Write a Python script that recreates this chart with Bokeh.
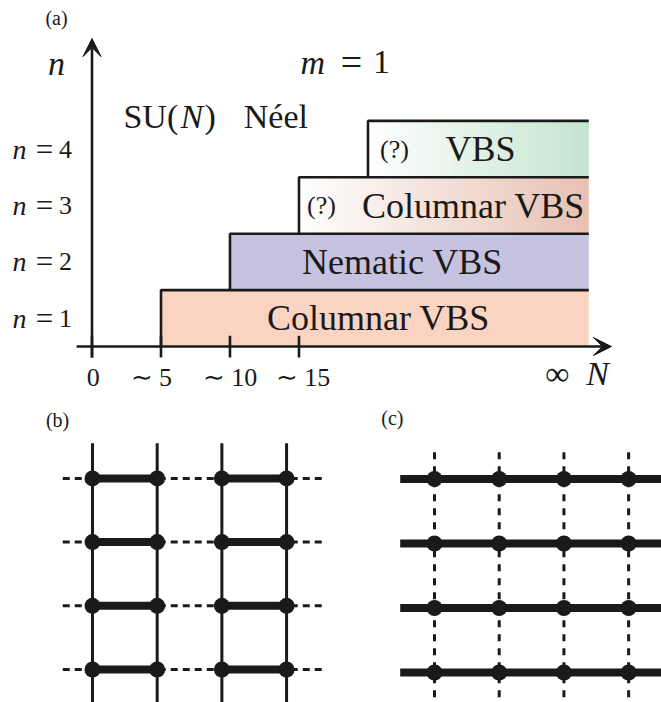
import numpy as np
from bokeh.plotting import figure
from bokeh.models import Range1d, Arrow, VeeHead
from bokeh.layouts import column, row
from bokeh.core.properties import value
from bokeh.embed import file_html
from bokeh.resources import INLINE

# ---------------- data: phase diagram (a) ----------------
n_levels = [1, 2, 3, 4]
N_onset = [5, 10, 15, 20]
N_infinity = 36
phase_names = ["Columnar VBS", "Nematic VBS", "Columnar VBS", "VBS"]
phase_uncertain = [False, False, True, True]
phase_colors = ["#FAD3C1", "#C6C3E1", "#E8C1B3", "#C4E5CF"]
phase_gradient = [False, False, True, True]
N_ticks = [0, 5, 10, 15]
N_tick_labels = ["0", "∼ 5", "∼ 10", "∼ 15"]

# ---------------- data: lattices (b), (c) ----------------
lattice_cols = [0, 1, 2, 3]
lattice_rows = [0, 1, 2, 3]
dimer_pairs_b = [(0, 1), (2, 3)]

FONT = value("Liberation Serif")
INK = "#1a1a1a"

# ======================= panel (a) =======================
pa = figure(width=661, height=400, x_range=Range1d(-6.63, 41.27), y_range=Range1d(-0.957, 6.135),
            output_backend="svg", toolbar_location=None, min_border=0,
            x_axis_type=None, y_axis_type=None, outline_line_color=None)

for lvl, ns, col, grad in zip(n_levels, N_onset, phase_colors, phase_gradient):
    if grad:
        t = np.linspace(0, 1, 256)
        c = [int(col[i:i + 2], 16) for i in (1, 3, 5)]
        img = np.empty((1, 256), dtype=np.uint32)
        view = img.view(dtype=np.uint8).reshape((1, 256, 4))
        for k in range(3):
            view[0, :, k] = (255 + t * (c[k] - 255)).astype(np.uint8)
        view[0, :, 3] = 255
        pa.image_rgba(image=[img], x=ns, y=lvl - 1, dw=N_infinity - ns, dh=1)
    else:
        pa.quad(left=[ns], right=[N_infinity], bottom=[lvl - 1], top=[lvl],
                fill_color=col, line_color=None)

# outlines (left edge + top edge of each phase)
xs = [[ns, ns, N_infinity] for ns in N_onset]
ys = [[lvl - 1, lvl, lvl] for lvl in n_levels]
pa.multi_line(xs=xs, ys=ys, line_color=INK, line_width=2.6)

# axes
pa.add_layout(Arrow(x_start=-1.12, y_start=0, x_end=37.64, y_end=0, line_width=2.6,
                    line_color=INK, end=VeeHead(size=18, fill_color=INK, line_color=INK)))
pa.add_layout(Arrow(x_start=0, y_start=-0.195, x_end=0, y_end=5.46, line_width=2.6,
                    line_color=INK, end=VeeHead(size=18, fill_color=INK, line_color=INK)))
pa.segment(x0=N_ticks, x1=N_ticks, y0=[-0.195] * len(N_ticks), y1=[0.19] * len(N_ticks),
           line_color=INK, line_width=2.6)

txt = dict(text_font=FONT, text_color=INK, text_baseline="middle")

# tick labels (small horizontal nudges as in the original typesetting)
label_nudge = [0.1, -0.7, 0.0, 0.3]
pa.text(x=[t + d for t, d in zip(N_ticks, label_nudge)], y=[-0.55] * len(N_ticks),
        text=N_tick_labels, text_align="center", text_font_size="26px", **txt)
row_y = [l - 0.5 for l in n_levels]
pa.text(x=[-5.26] * 4, y=row_y, text=["n"] * 4, text_align="center",
        text_font_size="28px", text_font_style="italic", **txt)
pa.text(x=[-3.44] * 4, y=row_y, text=["="] * 4, text_align="center",
        text_font_size="31px", **txt)
pa.text(x=[-1.92] * 4, y=row_y, text=[str(l) for l in n_levels], text_align="center",
        text_font_size="26px", **txt)

# phase labels
name_x = [20.76, 22.5, 27.64, 28.15]
q_x = [None, None, 16.63, 21.92]
for lvl, name, nx, qx, unc in zip(n_levels, phase_names, name_x, q_x, phase_uncertain):
    pa.text(x=[nx], y=[lvl - 0.5], text=[name], text_align="center", text_font_size="36px", **txt)
    if unc:
        pa.text(x=[qx], y=[lvl - 0.5], text=["(?)"], text_align="center", text_font_size="26px", **txt)

# other annotations
pa.text(x=[-2.57], y=[5.82], text=["(a)"], text_align="center", text_font_size="20px", **txt)
pa.text(x=[-2.57], y=[5.02], text=["n"], text_align="center", text_font_size="34px",
        text_font_style="italic", **txt)
pa.text(x=[15.11], y=[5.04], text=["m"], text_align="left", text_font_size="34px",
        text_font_style="italic", **txt)
pa.text(x=[18.8], y=[5.04], text=["="], text_align="center", text_font_size="38px", **txt)
pa.text(x=[20.98], y=[5.04], text=["1"], text_align="center", text_font_size="34px", **txt)
pa.text(x=[2.28], y=[4.08], text=["SU("], text_align="left", text_font_size="34px", **txt)
pa.text(x=[6.41], y=[4.08], text=["N"], text_align="left", text_font_size="34px",
        text_font_style="italic", **txt)
pa.text(x=[8.15], y=[4.08], text=[")"], text_align="left", text_font_size="34px", **txt)
pa.text(x=[11.0], y=[4.08], text=["Néel"], text_align="left", text_font_size="34px", **txt)
pa.text(x=[33.73], y=[-0.48], text=["∞"], text_align="center", text_font_size="34px", **txt)
pa.text(x=[36.63], y=[-0.48], text=["N"], text_align="center", text_font_size="34px",
        text_font_style="italic", **txt)

# ======================= panel (b) =======================
pb = figure(width=330, height=302, x_range=Range1d(-1.422, 3.679), y_range=Range1d(-0.518, 4.223),
            output_backend="svg", toolbar_location=None, min_border=0,
            x_axis_type=None, y_axis_type=None, outline_line_color=None)
pb.multi_line(xs=[[-0.46, 3.6] for _ in lattice_rows], ys=[[r, r] for r in lattice_rows],
              line_color=INK, line_width=3, line_dash="7 5")
pb.multi_line(xs=[[c, c] for c in lattice_cols], ys=[[-0.6, 3.55] for _ in lattice_cols],
              line_color=INK, line_width=3)
bx, by = [], []
for r in lattice_rows:
    for a, b in dimer_pairs_b:
        bx.append([lattice_cols[a], lattice_cols[b]])
        by.append([r, r])
pb.multi_line(xs=bx, ys=by, line_color=INK, line_width=8)
sx = [c for r in lattice_rows for c in lattice_cols]
sy = [r for r in lattice_rows for c in lattice_cols]
pb.scatter(x=sx, y=sy, size=16, fill_color=INK, line_color=None)
pb.text(x=[-0.54], y=[3.91], text=["(b)"], text_align="center", text_font_size="20px", **txt)

# ======================= panel (c) =======================
pc = figure(width=331, height=302, x_range=Range1d(-1.607, 3.508), y_range=Range1d(-0.465, 4.217),
            output_backend="svg", toolbar_location=None, min_border=0,
            x_axis_type=None, y_axis_type=None, outline_line_color=None)
pc.multi_line(xs=[[c, c] for c in lattice_cols], ys=[[-0.6, 3.52] for _ in lattice_cols],
              line_color=INK, line_width=3, line_dash="7 7")
pc.multi_line(xs=[[-0.53, 3.6] for _ in lattice_rows], ys=[[r, r] for r in lattice_rows],
              line_color=INK, line_width=8)
pc.scatter(x=sx, y=sy, size=16, fill_color=INK, line_color=None)
pc.text(x=[-0.65], y=[3.94], text=["(c)"], text_align="center", text_font_size="20px", **txt)

layout = column(pa, row(pb, pc))
open("out.html", "w").write(file_html(layout, INLINE))
